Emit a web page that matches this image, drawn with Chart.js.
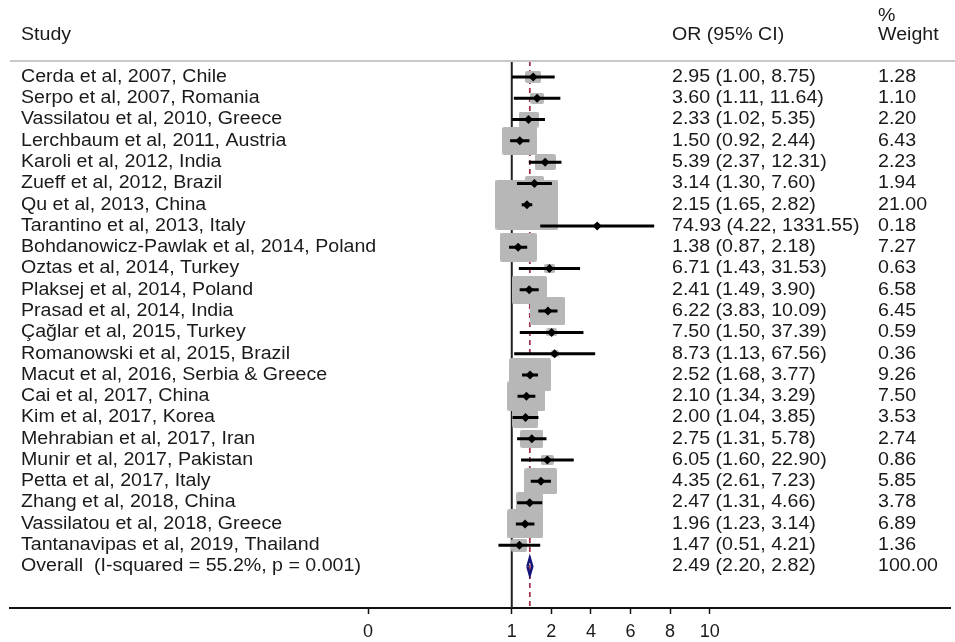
<!DOCTYPE html>
<html>
<head>
<meta charset="utf-8">
<script src="https://cdn.jsdelivr.net/npm/chart.js@4.4.1/dist/chart.umd.min.js"></script>
<style>
  html, body { margin: 0; padding: 0; background: #fff; }
</style>
</head>
<body>
<canvas id="forest" width="955" height="642"></canvas>
<script>
// data
const studies = [
  'Cerda et al, 2007, Chile',
  'Serpo et al, 2007, Romania',
  'Vassilatou et al, 2010, Greece',
  'Lerchbaum et al, 2011, Austria',
  'Karoli et al, 2012, India',
  'Zueff et al, 2012, Brazil',
  'Qu et al, 2013, China',
  'Tarantino et al, 2013, Italy',
  'Bohdanowicz-Pawlak et al, 2014, Poland',
  'Oztas et al, 2014, Turkey',
  'Plaksej et al, 2014, Poland',
  'Prasad et al, 2014, India',
  'Çağlar et al, 2015, Turkey',
  'Romanowski et al, 2015, Brazil',
  'Macut et al, 2016, Serbia & Greece',
  'Cai et al, 2017, China',
  'Kim et al, 2017, Korea',
  'Mehrabian et al, 2017, Iran',
  'Munir et al, 2017, Pakistan',
  'Petta et al, 2017, Italy',
  'Zhang et al, 2018, China',
  'Vassilatou et al, 2018, Greece',
  'Tantanavipas et al, 2019, Thailand'
];
const oddsRatio = [2.95, 3.60, 2.33, 1.50, 5.39, 3.14, 2.15, 74.93, 1.38, 6.71, 2.41, 6.22,
  7.50, 8.73, 2.52, 2.10, 2.00, 2.75, 6.05, 4.35, 2.47, 1.96, 1.47];
const ciLower = [1.00, 1.11, 1.02, 0.92, 2.37, 1.30, 1.65, 4.22, 0.87, 1.43, 1.49, 3.83,
  1.50, 1.13, 1.68, 1.34, 1.04, 1.31, 1.60, 2.61, 1.31, 1.23, 0.51];
const ciUpper = [8.75, 11.64, 5.35, 2.44, 12.31, 7.60, 2.82, 1331.55, 2.18, 31.53, 3.90, 10.09,
  37.39, 67.56, 3.77, 3.29, 3.85, 5.78, 22.90, 7.23, 4.66, 3.14, 4.21];
const weights = [1.28, 1.10, 2.20, 6.43, 2.23, 1.94, 21.00, 0.18, 7.27, 0.63, 6.58, 6.45,
  0.59, 0.36, 9.26, 7.50, 3.53, 2.74, 0.86, 5.85, 3.78, 6.89, 1.36];

const overallLabel = 'Overall  (I-squared = 55.2%, p = 0.001)';
const overallOr = [2.49];
const overallCi = [2.20, 2.82];
const overallWeight = ['100.00'];

// x axis is ln(OR); the original labels sit at these positions
const tickValues = [-7.26, 0, 2, 4, 6, 8, 10];
const tickLabels = ['0', '1', '2', '4', '6', '8', '10'];

const FONT = '"Liberation Sans", Arial, sans-serif';
const TEXT = '#1a1a1a';
const STRETCH = 1.12; // the source image is a bit wider than tall
const overallRow = studies.length;
const yTop = -0.752;
const yBottom = 24.95;

const fmt = v => v.toFixed(2);
const ln = Math.log;

// grey weight boxes, slightly wider than tall like the original
const boxCache = {};
function weightBox(w) {
  if (boxCache[w]) return boxCache[w];
  const bw = Math.max(2, Math.round(13.8 * Math.sqrt(w)));
  const bh = Math.max(2, Math.round(10.9 * Math.sqrt(w)));
  const c = document.createElement('canvas');
  c.width = bw;
  c.height = bh;
  const g = c.getContext('2d');
  g.fillStyle = '#b7b7b7';
  const r = Math.min(2, bw / 2, bh / 2);
  g.beginPath();
  g.roundRect(0, 0, bw, bh, r);
  g.fill();
  boxCache[w] = c;
  return c;
}

const ciSegments = [];
studies.forEach((s, i) => {
  ciSegments.push({ x: ln(ciLower[i]), y: i });
  ciSegments.push({ x: ln(ciUpper[i]), y: i });
  ciSegments.push({ x: null, y: null });
});
const estimates = oddsRatio.map((v, i) => ({ x: ln(v), y: i }));
const halfH = 0.4;
const diamond = [
  { x: ln(overallCi[0]), y: overallRow },
  { x: ln(overallOr[0]), y: overallRow - halfH },
  { x: ln(overallCi[1]), y: overallRow },
  { x: ln(overallOr[0]), y: overallRow + halfH },
  { x: ln(overallCi[0]), y: overallRow }
];

function wideText(ctx, str, x, y) {
  ctx.save();
  ctx.translate(x, y);
  ctx.scale(STRETCH, 1);
  ctx.fillText(str, 0, 0);
  ctx.restore();
}

// text columns: study, OR (95% CI), % weight
const tableText = {
  id: 'tableText',
  afterDraw(chart) {
    const { ctx, chartArea } = chart;
    const y = chart.scales.y;
    ctx.save();
    ctx.strokeStyle = '#c8c8c8';
    ctx.lineWidth = 2;
    ctx.beginPath();
    ctx.moveTo(10, chartArea.top);
    ctx.lineTo(955, chartArea.top);
    ctx.stroke();

    ctx.fillStyle = TEXT;
    ctx.font = '17.5px ' + FONT;
    ctx.textBaseline = 'middle';
    ctx.textAlign = 'left';
    const c1 = 21, c2 = 672, c3 = 878;
    wideText(ctx, 'Study', c1, 35);
    wideText(ctx, 'OR (95% CI)', c2, 35);
    wideText(ctx, '%', c3, 16);
    wideText(ctx, 'Weight', c3, 35);

    studies.forEach((s, i) => {
      const py = y.getPixelForValue(i);
      wideText(ctx, s, c1, py);
      wideText(ctx, `${fmt(oddsRatio[i])} (${fmt(ciLower[i])}, ${fmt(ciUpper[i])})`, c2, py);
      wideText(ctx, fmt(weights[i]), c3, py);
    });
    const oy = y.getPixelForValue(overallRow);
    wideText(ctx, overallLabel, c1, oy);
    wideText(ctx, `${fmt(overallOr[0])} (${fmt(overallCi[0])}, ${fmt(overallCi[1])})`, c2, oy);
    wideText(ctx, overallWeight[0], c3, oy);
    ctx.restore();
  }
};

new Chart(document.getElementById('forest'), {
  type: 'scatter',
  data: {
    datasets: [
      {
        label: 'estimate',
        data: estimates,
        pointStyle: 'rectRot',
        pointRadius: 4.5,
        backgroundColor: '#000',
        borderWidth: 0,
        order: 0
      },
      {
        label: 'ci',
        data: ciSegments,
        showLine: true,
        spanGaps: false,
        borderColor: '#000',
        borderWidth: 3,
        pointRadius: 0,
        order: 1
      },
      {
        label: 'overall',
        data: diamond,
        showLine: true,
        borderColor: '#14147a',
        borderWidth: 2.5,
        pointRadius: 0,
        order: 1
      },
      {
        label: 'weight',
        data: estimates,
        pointStyle: ctx => weightBox(weights[ctx.dataIndex]),
        pointRadius: 3,
        order: 2
      },
      {
        label: 'null',
        data: [{ x: 0, y: yTop }, { x: 0, y: yBottom }],
        showLine: true,
        borderColor: '#222',
        borderWidth: 2,
        pointRadius: 0,
        order: 3
      },
      {
        label: 'pooled',
        data: [{ x: ln(overallOr[0]), y: yTop }, { x: ln(overallOr[0]), y: yBottom }],
        showLine: true,
        borderColor: '#a3344e',
        borderDash: [5, 4],
        borderWidth: 1.8,
        pointRadius: 0,
        order: 3
      }
    ]
  },
  options: {
    responsive: false,
    animation: false,
    layout: { padding: { left: 10, right: 0, top: 61, bottom: 0 } },
    plugins: { legend: { display: false }, tooltip: { enabled: false } },
    scales: {
      x: {
        type: 'linear',
        min: -25.35,
        max: 22.14,
        afterBuildTicks: scale => {
          scale.ticks = tickValues.map(v => ({ value: v }));
        },
        afterFit: scale => { scale.height = 34; },
        ticks: {
          callback: (v, i) => tickLabels[i],
          autoSkip: false,
          maxRotation: 0,
          padding: 7,
          color: TEXT,
          font: { family: FONT, size: 18 }
        },
        grid: {
          drawOnChartArea: false,
          drawTicks: true,
          tickLength: 6,
          tickColor: '#111',
          tickWidth: 1.5
        },
        border: { color: '#111', width: 2 }
      },
      y: {
        type: 'linear',
        min: yTop,
        max: yBottom,
        reverse: true,
        display: false
      }
    }
  },
  plugins: [tableText]
});
</script>
</body>
</html>
